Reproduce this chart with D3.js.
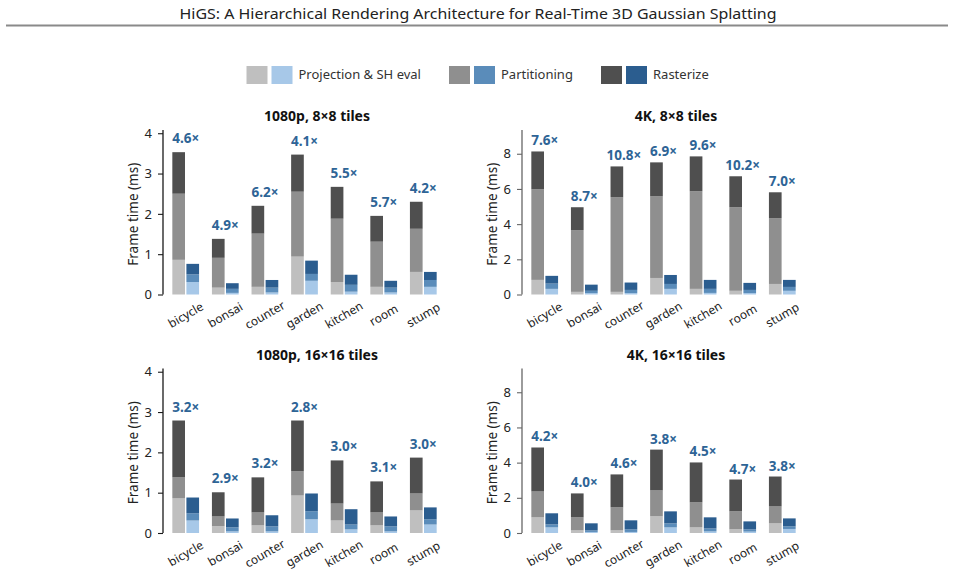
<!DOCTYPE html>
<html>
<head>
<meta charset="utf-8">
<script src="https://cdn.jsdelivr.net/npm/d3@7"></script>
<style>
  html, body { margin: 0; padding: 0; background: #fff; }
  svg { display: block; font-family: "Noto Sans", "DejaVu Sans", sans-serif; }
</style>
</head>
<body>
<svg id="chart" width="955" height="574"></svg>
<script>
// ---------------- data ----------------
const scenes = ["bicycle", "bonsai", "counter", "garden", "kitchen", "room", "stump"];
const stages = ["Projection & SH eval", "Partitioning", "Rasterize"];

// per-stage frame times (ms): baseline (gray) and HiGS (blue)
// 1080p, 8x8 tiles
const base_1080_8_proj  = [0.86, 0.17, 0.19, 0.94, 0.31, 0.19, 0.56];
const base_1080_8_part  = [1.64, 0.74, 1.32, 1.61, 1.57, 1.12, 1.07];
const base_1080_8_rast  = [1.03, 0.47, 0.69, 0.92, 0.79, 0.64, 0.67];
const higs_1080_8_proj  = [0.31, 0.04, 0.05, 0.34, 0.07, 0.05, 0.19];
const higs_1080_8_part  = [0.19, 0.10, 0.12, 0.17, 0.17, 0.12, 0.17];
const higs_1080_8_rast  = [0.26, 0.14, 0.19, 0.33, 0.25, 0.17, 0.20];
const speed_1080_8      = ["4.6×", "4.9×", "6.2×", "4.1×", "5.5×", "5.7×", "4.2×"];

// 4K, 8x8 tiles
const base_4k_8_proj    = [0.83, 0.15, 0.15, 0.94, 0.32, 0.21, 0.60];
const base_4k_8_part    = [5.15, 3.51, 5.38, 4.64, 5.55, 4.75, 3.74];
const base_4k_8_rast    = [2.15, 1.30, 1.75, 1.93, 1.98, 1.76, 1.47];
const higs_4k_8_proj    = [0.32, 0.08, 0.08, 0.32, 0.09, 0.08, 0.21];
const higs_4k_8_part    = [0.30, 0.13, 0.18, 0.28, 0.23, 0.18, 0.22];
const higs_4k_8_rast    = [0.44, 0.35, 0.42, 0.51, 0.51, 0.40, 0.40];
const speed_4k_8        = ["7.6×", "8.7×", "10.8×", "6.9×", "9.6×", "10.2×", "7.0×"];

// 1080p, 16x16 tiles
const base_1080_16_proj = [0.86, 0.17, 0.19, 0.93, 0.31, 0.19, 0.56];
const base_1080_16_part = [0.52, 0.24, 0.32, 0.60, 0.42, 0.32, 0.42];
const base_1080_16_rast = [1.41, 0.60, 0.87, 1.26, 1.07, 0.77, 0.89];
const higs_1080_16_proj = [0.31, 0.04, 0.04, 0.34, 0.09, 0.04, 0.21];
const higs_1080_16_part = [0.18, 0.10, 0.125, 0.20, 0.12, 0.125, 0.13];
const higs_1080_16_rast = [0.39, 0.22, 0.275, 0.44, 0.38, 0.245, 0.295];
const speed_1080_16     = ["3.2×", "2.9×", "3.2×", "2.8×", "3.0×", "3.1×", "3.0×"];

// 4K, 16x16 tiles
const base_4k_16_proj   = [0.89, 0.15, 0.15, 0.95, 0.32, 0.21, 0.55];
const base_4k_16_part   = [1.47, 0.74, 1.31, 1.47, 1.42, 1.02, 0.96];
const base_4k_16_rast   = [2.50, 1.36, 1.87, 2.32, 2.27, 1.81, 1.70];
const higs_4k_16_proj   = [0.32, 0.06, 0.06, 0.32, 0.09, 0.08, 0.23];
const higs_4k_16_part   = [0.17, 0.09, 0.15, 0.23, 0.17, 0.13, 0.15];
const higs_4k_16_rast   = [0.63, 0.40, 0.51, 0.68, 0.63, 0.45, 0.45];
const speed_4k_16       = ["4.2×", "4.0×", "4.6×", "3.8×", "4.5×", "4.7×", "3.8×"];

const ticksLeft  = [0, 1, 2, 3, 4];
const ticksRight = [0, 2, 4, 6, 8];

const grayColors = ["#bfbfbf", "#8f8f8f", "#4f4f4f"];
const blueColors = ["#a7c8e8", "#5a8cba", "#2b5d8f"];

const panels = [
  { title: "1080p, 8×8 tiles", col: 0, row: 0,
    base: [base_1080_8_proj, base_1080_8_part, base_1080_8_rast],
    higs: [higs_1080_8_proj, higs_1080_8_part, higs_1080_8_rast], speed: speed_1080_8 },
  { title: "4K, 8×8 tiles", col: 1, row: 0,
    base: [base_4k_8_proj, base_4k_8_part, base_4k_8_rast],
    higs: [higs_4k_8_proj, higs_4k_8_part, higs_4k_8_rast], speed: speed_4k_8 },
  { title: "1080p, 16×16 tiles", col: 0, row: 1,
    base: [base_1080_16_proj, base_1080_16_part, base_1080_16_rast],
    higs: [higs_1080_16_proj, higs_1080_16_part, higs_1080_16_rast], speed: speed_1080_16 },
  { title: "4K, 16×16 tiles", col: 1, row: 1,
    base: [base_4k_16_proj, base_4k_16_part, base_4k_16_rast],
    higs: [higs_4k_16_proj, higs_4k_16_part, higs_4k_16_rast], speed: speed_4k_16 }
];

// ---------------- layout ----------------
const svg = d3.select("#chart");
const colX = [163, 522];
const rowY = [{ top: 130, bottom: 294.5 }, { top: 368.5, bottom: 533 }];
const colYMax = [4.08, 9.35];
const colTicks = [ticksLeft, ticksRight];
const colAxisColor = ["#1a1a1a", "#666"];
const colLabelOffset = [9, 6];

// title
svg.append("text")
  .attr("x", 478).attr("y", 18.5)
  .attr("text-anchor", "middle")
  .attr("font-size", 15)
  .attr("fill", "#222")
  .attr("textLength", 597)
  .attr("lengthAdjust", "spacingAndGlyphs")
  .text("HiGS: A Hierarchical Rendering Architecture for Real-Time 3D Gaussian Splatting");
svg.append("line")
  .attr("x1", 6).attr("x2", 948).attr("y1", 25.5).attr("y2", 25.5)
  .attr("stroke", "#8a8a8a").attr("stroke-width", 2);

// legend
const legendX = [246.5, 449, 601];
const legend = svg.append("g");
stages.forEach((s, i) => {
  const g = legend.append("g").attr("transform", `translate(${legendX[i]},66)`);
  g.append("rect").attr("width", 21).attr("height", 18).attr("fill", grayColors[i]);
  g.append("rect").attr("x", 25).attr("width", 21).attr("height", 18).attr("fill", blueColors[i]);
  g.append("text").attr("x", 52).attr("y", 8.5).attr("dy", "0.35em")
    .attr("font-size", 13).attr("fill", "#333").text(s);
});

// panels
panels.forEach(p => {
  const ax = colX[p.col];
  const ry = rowY[p.row];
  const g = svg.append("g");

  const y = d3.scaleLinear().domain([0, colYMax[p.col]]).range([ry.bottom, ry.top]);
  const x = d3.scaleBand().domain(scenes)
    .range([ax + 2.9, ax + 2.9 + 7 * 39.6]).paddingInner(0).paddingOuter(0);
  const bw = x.bandwidth() * 0.32;
  const gap = 1.4;

  // stacks
  const baseStack = d3.stack().keys([0, 1, 2]).value((d, k) => p.base[k][d])(d3.range(scenes.length));
  const higsStack = d3.stack().keys([0, 1, 2]).value((d, k) => p.higs[k][d])(d3.range(scenes.length));

  baseStack.forEach((layer, k) => {
    g.selectAll(null).data(layer).enter().append("rect")
      .attr("x", (d, i) => x(scenes[i]) + x.bandwidth() / 2 - gap / 2 - bw)
      .attr("width", bw)
      .attr("y", d => y(d[1]))
      .attr("height", d => y(d[0]) - y(d[1]))
      .attr("fill", grayColors[k]);
  });
  higsStack.forEach((layer, k) => {
    g.selectAll(null).data(layer).enter().append("rect")
      .attr("x", (d, i) => x(scenes[i]) + x.bandwidth() / 2 + gap / 2)
      .attr("width", bw)
      .attr("y", d => y(d[1]))
      .attr("height", d => y(d[0]) - y(d[1]))
      .attr("fill", blueColors[k]);
  });

  // speedup labels
  const tops = baseStack[2];
  g.selectAll(null).data(p.speed).enter().append("text")
    .attr("x", (d, i) => x(scenes[i]) + x.bandwidth() / 2)
    .attr("y", (d, i) => y(tops[i][1]) - colLabelOffset[p.col])
    .attr("text-anchor", "middle")
    .attr("font-size", 13.5).attr("font-weight", "bold")
    .attr("fill", "#2e6496")
    .text(d => d);

  // y axis
  const yAxis = d3.axisLeft(y).tickValues(colTicks[p.col]).tickSize(5).tickPadding(6)
    .tickFormat(d3.format("d"));
  const ya = g.append("g").attr("transform", `translate(${ax},0)`).call(yAxis);
  ya.select(".domain").attr("stroke", colAxisColor[p.col]).attr("stroke-width", 1.3)
    .attr("d", `M0,${ry.top}V${ry.bottom}`);
  ya.selectAll(".tick line").attr("stroke", colAxisColor[p.col]).attr("stroke-width", 1.1);
  ya.selectAll(".tick text").attr("font-size", 13).attr("fill", "#222")
    .attr("font-family", "\"Noto Sans\", \"DejaVu Sans\", sans-serif");

  // y label
  g.append("text")
    .attr("transform", `translate(${ax - 30},${(ry.top + ry.bottom) / 2 + 2}) rotate(-90)`)
    .attr("text-anchor", "middle").attr("dy", "0.35em")
    .attr("font-size", 13.5).attr("fill", "#222")
    .text("Frame time (ms)");

  // x labels
  g.selectAll(null).data(scenes).enter().append("text")
    .attr("transform", d => `translate(${x(d) + x.bandwidth() / 2},${ry.bottom + 20.5}) rotate(-30)`)
    .attr("text-anchor", "middle").attr("dy", "0.35em")
    .attr("font-size", 12).attr("fill", "#222")
    .text(d => d);

  // panel title
  g.append("text")
    .attr("x", ax + 154).attr("y", ry.top - 9)
    .attr("text-anchor", "middle")
    .attr("font-size", 14).attr("font-weight", "bold").attr("fill", "#111")
    .text(p.title);
});
</script>
</body>
</html>
